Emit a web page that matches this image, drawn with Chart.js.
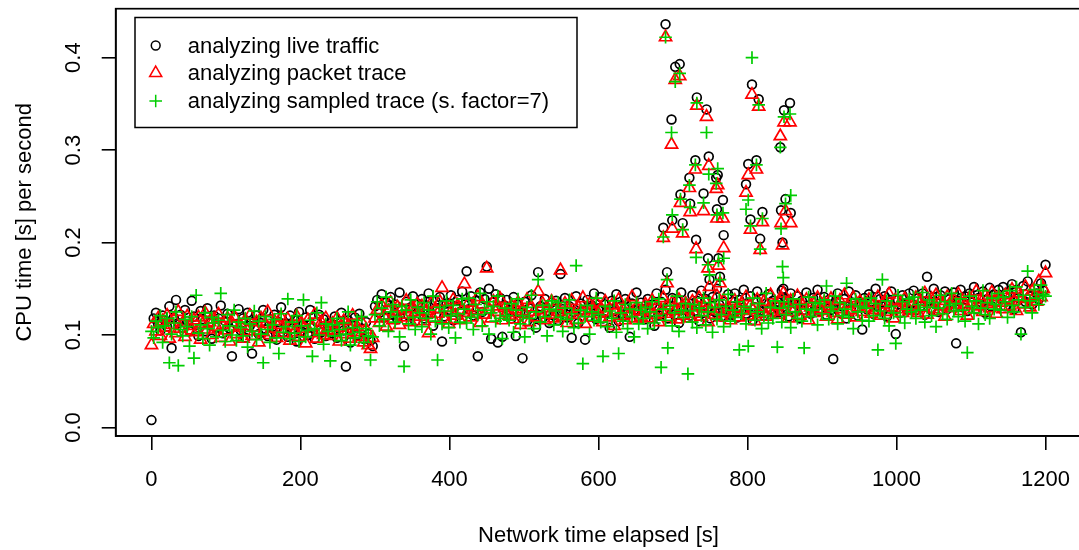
<!DOCTYPE html>
<html>
<head>
<meta charset="utf-8">
<script src="https://cdn.jsdelivr.net/npm/chart.js@4.4.0/dist/chart.umd.min.js"></script>
<style>
html, body { margin: 0; padding: 0; background: #fff; overflow: hidden; }
canvas { display: block; }
</style>
</head>
<body>
<canvas id="cpu" width="1090" height="550"></canvas>
<script>
// CPU time per second in milliseconds.
// Regular samples every 3 s of network time (t = 0, 3, ... 1200)
const stepSeconds = 3

const liveCpu = [
    8, 118, 124, 112, 105, 121, 116, 109, 131, 86, 119, 138, 113, 122, 108, 127, 115, 104, 137, 120,
    111, 99, 126, 117, 104, 129, 113, 96, 121, 108, 118, 132, 102, 115, 123, 107, 77, 119, 112, 128,
    105, 118, 97, 124, 110, 80, 115, 121, 101, 113, 127, 106, 99, 117, 109, 122, 95, 114, 130, 103,
    112, 98, 121, 107, 116, 93, 125, 104, 111, 119, 100, 127, 108, 96, 114, 122, 103, 117, 99, 110,
    113, 102, 120, 97, 108, 124, 105, 66, 116, 92, 111, 119, 100, 123, 107, 96, 114, 101, 94, 88,
    131, 138, 124, 144, 119, 135, 128, 141, 122, 133, 117, 146, 127, 88, 136, 121, 130, 142, 115, 134,
    126, 139, 118, 132, 145, 123, 110, 137, 129, 141, 93, 120, 134, 127, 143, 116, 131, 138, 125, 147,
    133, 169, 128, 142, 121, 137, 77, 146, 125, 139, 174, 150, 96, 136, 144, 92, 140, 98, 132, 138,
    127, 118, 141, 99, 133, 124, 75, 136, 115, 129, 143, 121, 108, 168, 131, 119, 139, 126, 113, 135,
    122, 137, 116, 166, 128, 140, 119, 131, 97, 125, 142, 113, 134, 127, 95, 138, 120, 132, 145, 117,
    129, 141, 118, 133, 124, 108, 137, 126, 144, 115, 131, 120, 139, 123, 98, 134, 127, 146, 119, 135,
    128, 117, 139, 124, 133, 110, 145, 121, 136, 126, 149, 118, 131, 140, 122, 137, 113, 146, 127, 134,
    130, 121, 143, 126, 137, 115, 148, 124, 139, 129, 118, 141, 125, 150, 133, 120, 136, 127, 144, 122,
    131, 145, 119, 138, 127, 149, 123, 135, 142, 116, 130, 147, 126, 139, 121, 134, 144, 128, 137, 124,
    136, 125, 148, 131, 139, 120, 145, 129, 134, 142, 118, 137, 127, 146, 132, 123, 140, 130, 149, 126,
    133, 141, 122, 138, 127, 74, 136, 145, 124, 131, 139, 118, 147, 128, 135, 143, 121, 134, 106, 140,
    128, 144, 136, 123, 150, 131, 139, 126, 142, 120, 135, 147, 129, 101, 138, 124, 143, 133, 127, 145,
    134, 148, 127, 140, 131, 145, 122, 163, 137, 129, 150, 136, 125, 143, 132, 147, 128, 139, 134, 146,
    91, 137, 149, 130, 142, 126, 145, 135, 152, 128, 140, 133, 147, 124, 138, 151, 131, 144, 136, 149,
    139, 152, 131, 146, 137, 155, 128, 149, 140, 103, 153, 136, 158, 142, 133, 150, 145, 139, 156, 148,
    176
]

const packetCpu = [
    89, 112, 104, 118, 99, 115, 108, 121, 96, 111, 117, 102, 125, 107, 113, 98, 120, 110, 105, 116,
    103, 119, 95, 112, 124, 106, 114, 100, 117, 109, 122, 97, 111, 105, 118, 93, 113, 120, 101, 108,
    110, 96, 116, 104, 121, 99, 108, 114, 92, 118, 103, 112, 125, 100, 107, 115, 97, 111, 119, 102,
    106, 117, 94, 110, 103, 120, 98, 113, 107, 91, 116, 102, 109, 122, 96, 105, 114, 100, 118, 104,
    99, 112, 105, 118, 93, 108, 115, 101, 110, 96, 121, 103, 109, 98, 114, 92, 106, 89, 85, 97,
    118, 127, 113, 132, 121, 109, 126, 135, 116, 124, 130, 111, 128, 119, 137, 122, 114, 129, 125, 133,
    120, 131, 115, 126, 102, 134, 118, 128, 123, 136, 151, 117, 129, 112, 125, 138, 121, 132, 116, 127,
    155, 124, 135, 119, 130, 127, 141, 113, 133, 122, 172, 128, 118, 136, 125, 131, 139, 116, 129, 124,
    121, 132, 117, 128, 135, 111, 126, 123, 138, 114, 130, 125, 119, 147, 127, 134, 116, 129, 122, 136,
    118, 131, 125, 170, 120, 134, 113, 128, 137, 122, 116, 130, 126, 140, 112, 124, 133, 119, 127, 135,
    123, 129, 114, 136, 125, 119, 132, 110, 127, 138, 121, 128, 116, 133, 124, 141, 118, 130, 126, 120,
    125, 133, 118, 128, 137, 122, 131, 114, 127, 140, 123, 132, 119, 135, 126, 117, 138, 129, 121, 134,
    127, 118, 136, 123, 131, 140, 120, 129, 135, 114, 128, 133, 122, 142, 126, 119, 137, 124, 130, 116,
    124, 137, 129, 119, 134, 126, 141, 121, 132, 127, 115, 138, 123, 130, 136, 120, 128, 143, 125, 133,
    131, 122, 139, 127, 134, 118, 137, 125, 129, 142, 121, 133, 126, 138, 116, 130, 135, 124, 140, 128,
    126, 135, 120, 131, 139, 124, 132, 117, 137, 128, 143, 122, 134, 127, 140, 119, 130, 136, 125, 133,
    129, 138, 123, 134, 127, 141, 121, 133, 136, 125, 144, 130, 118, 137, 128, 135, 124, 139, 131, 126,
    132, 127, 140, 124, 136, 130, 145, 122, 134, 139, 128, 143, 126, 137, 131, 120, 141, 133, 129, 138,
    130, 144, 126, 137, 133, 121, 140, 135, 128, 147, 131, 138, 125, 142, 134, 129, 146, 136, 123, 141,
    135, 128, 143, 138, 131, 149, 137, 126, 145, 140, 133, 152, 139, 130, 147, 142, 136, 158, 141, 150,
    167
]

const sampledCpu = [
    104, 97, 115, 108, 121, 92, 110, 118, 70, 101, 113, 125, 67, 106, 99, 117, 109, 88, 120, 75,
    143, 102, 111, 96, 124, 107, 89, 119, 113, 98, 116, 145, 105, 93, 122, 110, 100, 127, 94, 114,
    108, 99, 118, 87, 112, 104, 126, 95, 115, 101, 70, 120, 106, 92, 111, 117, 97, 80, 123, 103,
    109, 139, 96, 114, 102, 121, 93, 110, 138, 98, 105, 116, 77, 107, 124, 100, 135, 90, 112, 104,
    72, 111, 99, 118, 106, 94, 113, 101, 125, 89, 108, 97, 116, 103, 120, 92, 107, 99, 73, 98,
    122, 136, 110, 129, 117, 141, 104, 125, 133, 114, 120, 98, 131, 66, 127, 112, 138, 119, 106, 130,
    124, 109, 135, 118, 127, 101, 142, 115, 73, 130, 112, 126, 137, 108, 121, 132, 97, 123, 114, 139,
    128, 113, 140, 119, 106, 133, 122, 145, 110, 127, 136, 101, 124, 131, 115, 142, 118, 96, 129, 121,
    116, 134, 103, 127, 139, 112, 121, 98, 130, 118, 143, 107, 125, 160, 114, 132, 120, 99, 128, 137,
    111, 126, 135, 119, 104, 129, 117, 138, 123, 108, 175, 113, 127, 69, 120, 132, 101, 125, 116, 140,
    122, 114, 77, 131, 109, 126, 118, 137, 103, 80, 124, 115, 133, 107, 128, 120, 98, 135, 112, 127,
    118, 130, 107, 125, 136, 113, 121, 139, 65, 128, 116, 86, 132, 110, 124, 142, 104, 127, 119, 134,
    58, 126, 114, 133, 108, 129, 121, 140, 111, 125, 135, 103, 130, 117, 138, 122, 109, 131, 144, 115,
    127, 119, 136, 84, 123, 131, 112, 88, 128, 140, 116, 125, 134, 107, 121, 145, 113, 130, 118, 137,
    87, 129, 114, 136, 122, 131, 108, 139, 125, 118, 133, 115, 86, 128, 141, 120, 127, 135, 111, 134,
    123, 138, 153, 117, 130, 126, 142, 112, 135, 121, 128, 156, 119, 133, 107, 139, 125, 131, 116, 137,
    129, 115, 140, 121, 134, 84, 126, 160, 118, 137, 110, 131, 124, 91, 143, 120, 136, 113, 128, 139,
    125, 141, 118, 133, 127, 146, 114, 130, 138, 121, 135, 109, 129, 143, 123, 136, 117, 132, 145, 126,
    134, 120, 139, 127, 115, 81, 142, 131, 124, 137, 112, 129, 148, 122, 135, 118, 140, 128, 133, 145,
    127, 141, 136, 119, 148, 132, 125, 152, 138, 101, 143, 130, 169, 137, 124, 149, 140, 133, 154, 144,
    142
]

// the burst between ~690 s and ~860 s (extra points, same units)
const burstSeconds = [687, 690, 692, 698, 699, 703, 709, 710, 713, 722, 723, 730, 731, 732, 741, 745, 747, 748, 749, 758,
    759, 760, 761, 763, 767, 768, 798, 801, 804, 806, 812, 815, 817, 820, 844, 845, 847, 848, 849, 851, 857, 858]
const liveBurst = [216, 436, 168, 333, 224, 390, 393, 252, 221, 270, 242, 289, 203, 357, 253, 344, 183, 293, 160, 270,
    236, 273, 183, 163, 246, 208, 263, 285, 225, 371, 289, 355, 204, 233, 303, 235, 200, 150, 343, 247, 351, 232]
const packetBurst = [205, 422, 156, 306, 215, 376, 380, 243, 210, 259, 233, 279, 193, 348, 234, 336, 172, 283, 152, 258,
    226, 262, 175, 156, 226, 194, 254, 273, 214, 360, 279, 347, 192, 222, 315, 221, 197, 145, 330, 234, 330, 221]
const sampledBurst = [206, 422, 160, 319, 230, 374, 383, 247, 214, 262, 238, 284, 184, 351, 243, 319, 176, 274, 165, 264,
    230, 280, 180, 160, 232, 183, 236, 246, 218, 400, 284, 349, 193, 226, 303, 215, 174, 162, 336, 242, 339, 251]

const seriesLabels = ['analyzing live traffic', 'analyzing packet trace', 'analyzing sampled trace (s. factor=7)']
const xTicks = [0, 200, 400, 600, 800, 1000, 1200]
const yTicks = [0, 0.1, 0.2, 0.3, 0.4]

const FONT = { family: 'Liberation Sans, Arial, Helvetica, sans-serif', size: 22 }
const colors = ['#000000', '#ff0000', '#00cd00']
const styles = ['circle', 'triangle', 'cross']
const radii = [4.4, 7.0, 6.3]
const markLine = 1.7

function toPoints(times, valuesMs) {
    return valuesMs.map((v, i) => ({ x: times[i], y: v / 1000 }))
}

const seconds = liveCpu.map((_, i) => i * stepSeconds)
const bands = [liveCpu, packetCpu, sampledCpu]
const bursts = [liveBurst, packetBurst, sampledBurst]

const datasets = bands.map((band, k) => ({
    label: seriesLabels[k],
    data: toPoints(seconds, band).concat(toPoints(burstSeconds, bursts[k])),
    showLine: false,
    pointStyle: styles[k],
    pointRadius: radii[k],
    pointBorderWidth: markLine,
    pointBorderColor: colors[k],
    pointBackgroundColor: 'rgba(0,0,0,0)',
    borderColor: colors[k],
    backgroundColor: 'rgba(0,0,0,0)',
    order: 3 - k
}))

// no extra room for the end labels, the plot region is fixed
function noPadding(s) {
    s.paddingTop = 0
    s.paddingBottom = 0
    s.paddingLeft = 0
    s.paddingRight = 0
}

// box around the plot region and the R style legend
const boxAndLegend = {
    id: 'boxAndLegend',
    afterDraw(chart) {
        const ctx = chart.ctx
        const a = chart.chartArea
        ctx.save()
        ctx.strokeStyle = '#000'
        ctx.lineWidth = 1.7
        ctx.strokeRect(a.left, a.top, a.right - a.left, a.bottom - a.top)

        ctx.lineWidth = 1.5
        ctx.strokeRect(135, 17.5, 442, 110)
        ctx.font = FONT.size + 'px ' + FONT.family
        ctx.textBaseline = 'middle'
        const rowY = [45.5, 73, 101]
        seriesLabels.forEach((label, k) => {
            ctx.strokeStyle = colors[k]
            ctx.fillStyle = 'rgba(0,0,0,0)'
            Chart.helpers.drawPoint(ctx, { pointStyle: styles[k], radius: radii[k], borderWidth: markLine, rotation: 0 }, 155.7, rowY[k])
            ctx.fillStyle = '#000'
            ctx.fillText(label, 187.7, rowY[k] + 1)
        })
        ctx.restore()
    }
}

new Chart(document.getElementById('cpu'), {
    type: 'scatter',
    data: { datasets: datasets },
    plugins: [boxAndLegend],
    options: {
        responsive: false,
        animation: false,
        events: [],
        devicePixelRatio: 1,
        layout: { padding: { top: 8.5, right: 7.4, bottom: 0, left: 0 } },
        plugins: { legend: { display: false }, tooltip: { enabled: false } },
        scales: {
            x: {
                type: 'linear',
                min: -48,
                max: 1248,
                afterBuildTicks: s => { s.ticks = xTicks.map(v => ({ value: v })) },
                afterFit: s => { s.height = 114; noPadding(s) },
                grid: { drawOnChartArea: false, drawTicks: true, tickLength: 14, color: '#000', lineWidth: 1.6 },
                border: { display: true, color: '#000', width: 1.7 },
                ticks: { color: '#000', font: FONT, padding: 17, maxRotation: 0, autoSkip: false, callback: v => String(v) },
                title: { display: true, text: 'Network time elapsed [s]', color: '#000', font: FONT, padding: { top: 0, bottom: 1 } }
            },
            y: {
                type: 'linear',
                min: -0.0092,
                max: 0.4529,
                afterBuildTicks: s => { s.ticks = yTicks.map(v => ({ value: v })) },
                afterFit: s => { s.width = 115.7; noPadding(s) },
                grid: { drawOnChartArea: false, drawTicks: true, tickLength: 14, color: '#000', lineWidth: 1.6 },
                border: { display: true, color: '#000', width: 1.7 },
                ticks: { color: '#000', font: FONT, padding: 12, minRotation: 90, maxRotation: 90, crossAlign: 'center', autoSkip: false, callback: v => v.toFixed(1) },
                title: { display: true, text: 'CPU time [s] per second', color: '#000', font: FONT, padding: { top: 12, bottom: 0 } }
            }
        }
    }
})
</script>
</body>
</html>
